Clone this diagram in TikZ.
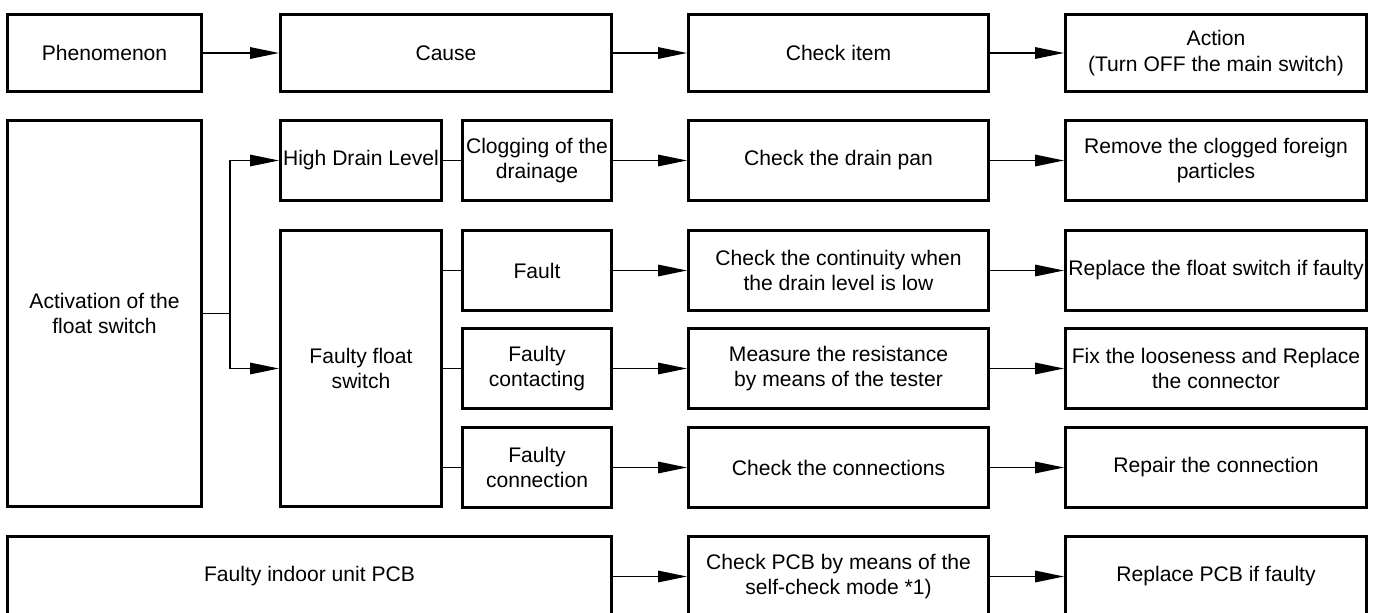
\documentclass[tikz,border=0pt]{standalone}
\usepackage{fontspec}
\setmainfont{Liberation Sans}
\usetikzlibrary{arrows.meta}

\begin{document}
\begin{tikzpicture}[x=0.02cm,y=-0.02cm,
  b/.style={rectangle,draw,line width=1.7pt,inner sep=0pt,minimum height=1.6cm,align=center,font=\fontsize{12}{14.5}\selectfont},
  ln/.style={line width=0.85pt},
  ar/.style={ln,-{Triangle[length=0.58cm,width=0.23cm]}}
]
  \useasboundingbox (0,0) rectangle (1379,612);
  \node[b,minimum width=3.88cm,minimum height=1.54cm] (phen) at (104.5,53) {Phenomenon};
  \node[b,minimum width=6.62cm,minimum height=1.54cm] (cause) at (446,53) {Cause};
  \node[b,minimum width=6cm,minimum height=1.54cm] (item) at (838.5,53) {Check item};
  \node[b,minimum width=6.02cm,minimum height=1.54cm] (action) at (1216,53) {Action\\(Turn OFF the main switch)};

  \node[b,minimum width=3.88cm,minimum height=7.72cm] (act) at (104.5,313.5) {Activation of the\\float switch};
  \node[b,minimum width=3.22cm] (hdl) at (361,160.5) {High Drain Level};
  \node[b,minimum width=3.22cm,minimum height=5.52cm] (ffs) at (361,368.5) {Faulty float\\switch};
  \node[b,minimum width=3cm] (clog) at (537,160.5) {Clogging of the\\drainage};
  \node[b,minimum width=3cm] (fault) at (537,270.5) {Fault};
  \node[b,minimum width=3cm] (contact) at (537,368.5) {Faulty\\contacting};
  \node[b,minimum width=3cm] (connect) at (537,467.5) {Faulty\\connection};
  \node[b,minimum width=12.08cm] (pcb) at (309.5,576.5) {Faulty indoor unit PCB};

  \node[b,minimum width=6cm] (pan) at (838.5,160.5) {Check the drain pan};
  \node[b,minimum width=6cm] (contin) at (838.5,270.5) {Check the continuity when\\the drain level is low};
  \node[b,minimum width=6cm] (measure) at (838.5,368.5) {Measure the resistance\\by means of the tester};
  \node[b,minimum width=6cm] (checkconn) at (838.5,467.5) {Check the connections};
  \node[b,minimum width=6cm] (checkpcb) at (838.5,576.5) {Check PCB by means of the\\self-check mode *1)};

  \node[b,minimum width=6.02cm] (remove) at (1216,160.5) {Remove the clogged foreign\\particles};
  \node[b,minimum width=6.02cm] (replfloat) at (1216,270.5) {Replace the float switch if faulty};
  \node[b,minimum width=6.02cm] (fix) at (1216,368.5) {Fix the looseness and Replace\\the connector};
  \node[b,minimum width=6.02cm] (repair) at (1216,467.5) {Repair the connection};
  \node[b,minimum width=6.02cm] (replpcb) at (1216,576.5) {Replace PCB if faulty};

  \draw[ar] (phen) -- (cause);
  \draw[ar] (cause) -- (item);
  \draw[ar] (item) -- (action);

  \coordinate (fork) at (230,313.5);
  \draw[ln] (act.east) -- (fork);
  \draw[ar] (fork) |- (hdl.west);
  \draw[ar] (fork) |- (ffs.west);

  \draw[ln] (hdl) -- (clog);
  \draw[ln] (ffs.east |- fault.west) -- (fault.west);
  \draw[ln] (ffs.east |- contact.west) -- (contact.west);
  \draw[ln] (ffs.east |- connect.west) -- (connect.west);

  \draw[ar] (clog) -- (pan);
  \draw[ar] (fault) -- (contin);
  \draw[ar] (contact) -- (measure);
  \draw[ar] (connect) -- (checkconn);
  \draw[ar] (pcb) -- (checkpcb);

  \draw[ar] (pan) -- (remove);
  \draw[ar] (contin) -- (replfloat);
  \draw[ar] (measure) -- (fix);
  \draw[ar] (checkconn) -- (repair);
  \draw[ar] (checkpcb) -- (replpcb);
\end{tikzpicture}
\end{document}
